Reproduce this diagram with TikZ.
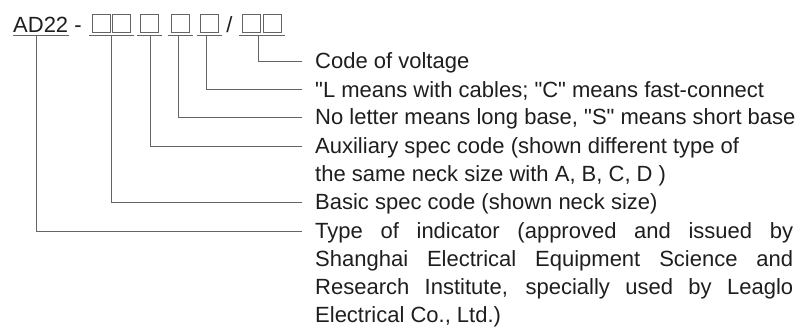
\documentclass[tikz,border=0pt]{standalone}
\usepackage{fontspec}
\setmainfont{Liberation Sans}[Ligatures=TeXOff]
\usepackage{tikz}
\usetikzlibrary{positioning}
\definecolor{ink}{RGB}{30,30,30}
\definecolor{linegray}{RGB}{100,100,100}

\begin{document}
\begin{tikzpicture}
  [
    x = 1pt, y = -1pt,
    every node/.style = {font = \fontsize{22}{28}\selectfont, text = ink},
    part/.style = {inner sep = 0pt, anchor = base west},
    sep/.style = {inner sep = 0pt, anchor = base},
    codebox/.style = {draw = linegray, line width = 0.9pt, minimum width = 18pt,
                      minimum height = 18pt, inner sep = 0pt, anchor = south west},
    desc/.style = {inner xsep = 13pt, inner ysep = 0pt, anchor = base west},
    wire/.style = {draw = linegray, line width = 0.9pt},
  ]
  \useasboundingbox (0,0) rectangle (797,327);

  % the code itself
  \node[part] (ad) at (13,32) {AD22};
  \node[sep] (dash) at (78,32) {-};
  \node[codebox] (b1) at (92,33) {};
  \node[codebox] (b2) at (112,33) {};
  \node[codebox] (b3) at (140,33) {};
  \node[codebox] (b4) at (171,33) {};
  \node[codebox] (b5) at (200,33) {};
  \node[sep] (slash) at (229.5,32) {/};
  \node[codebox] (b6) at (242,33) {};
  \node[codebox] (b7) at (263,33) {};

  % underlines
  \draw[wire] ([shift={(0pt,-3.5pt)}]ad.base west) -- ([shift={(1pt,-3.5pt)}]ad.base east);
  \draw[wire] ([shift={(-3pt,-2.5pt)}]b1.south west) -- ([shift={(3pt,-2.5pt)}]b2.south east);
  \draw[wire] ([shift={(-3pt,-2.5pt)}]b3.south west) -- ([shift={(3pt,-2.5pt)}]b3.south east);
  \draw[wire] ([shift={(-3pt,-2.5pt)}]b4.south west) -- ([shift={(3pt,-2.5pt)}]b4.south east);
  \draw[wire] ([shift={(-3pt,-2.5pt)}]b5.south west) -- ([shift={(3pt,-2.5pt)}]b5.south east);
  \draw[wire] ([shift={(-3pt,-2.5pt)}]b6.south west) -- ([shift={(3pt,-2.5pt)}]b7.south east);

  % meanings
  \node[desc] (voltage) at (302,68.5) {Code of voltage};
  \node[desc] (cables) at (302,97) {"L means with cables; "C" means fast-connect};
  \node[desc] (base) at (302,124.5) {No letter means long base, "S" means short base};
  \node[desc] (aux) at (302,153.5) {Auxiliary spec code (shown different type of};
  \node[desc] (aux2) at (302,181.7) {the same neck size with A, B, C, D )};
  \node[desc] (basic) at (302,209.5) {Basic spec code (shown neck size)};
  \node[desc] (type) at (302,238.5) {\makebox[478pt][s]{Type of indicator (approved and issued by}};
  \node[desc] (type2) at (302,266.5) {\makebox[478pt][s]{Shanghai Electrical Equipment Science and}};
  \node[desc] (type3) at (302,294.5) {\makebox[478pt][s]{Research Institute, specially used by Leaglo}};
  \node[desc] (type4) at (302,322.5) {Electrical Co., Ltd.)};

  % leaders
  \draw[wire] ([shift={(-2pt,-2.5pt)}]b6.south east) |- ([yshift=7.5pt]voltage.base west);
  \draw[wire] ([shift={(-3pt,-2.5pt)}]b5.south) |- ([yshift=7.5pt]cables.base west);
  \draw[wire] ([shift={(-2pt,-2.5pt)}]b4.south) |- ([yshift=7.5pt]base.base west);
  \draw[wire] ([shift={(1pt,-2.5pt)}]b3.south) |- ([yshift=7.5pt]aux.base west);
  \draw[wire] ([shift={(1pt,-2.5pt)}]b1.south east) |- ([yshift=7.5pt]basic.base west);
  \draw[wire] ([shift={(23pt,-3.5pt)}]ad.base west) |- ([yshift=7.5pt]type.base west);

\end{tikzpicture}
\end{document}
